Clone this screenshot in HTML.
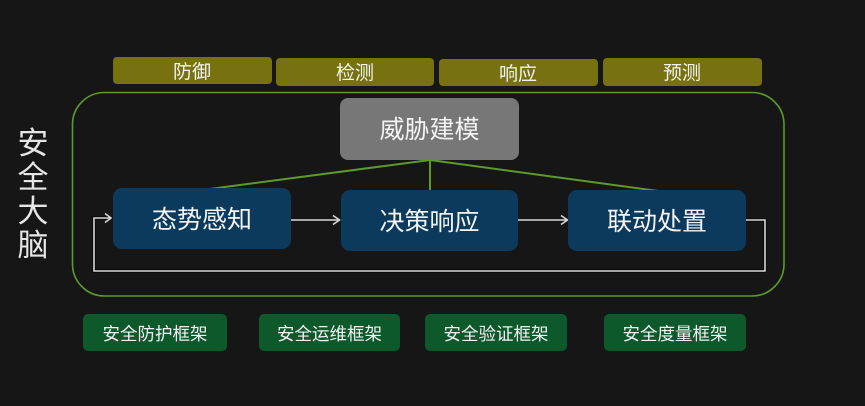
<!DOCTYPE html>
<html>
<head>
<meta charset="utf-8">
<style>
  html,body{margin:0;padding:0;background:#161616;}
  body{width:865px;height:406px;overflow:hidden;position:relative;}
  svg{position:absolute;left:0;top:0;}
  text{font-family:"Liberation Sans","Noto Sans CJK SC","WenQuanYi Zen Hei",sans-serif;}
</style>
</head>
<body>
<svg width="865" height="406" viewBox="0 0 865 406" xmlns="http://www.w3.org/2000/svg">
  <rect x="0" y="0" width="865" height="406" fill="#161616"/>

  <!-- top olive bars -->
  <g fill="#77720f">
    <rect x="113" y="57" width="159" height="27" rx="4"/>
    <rect x="276" y="58" width="158" height="28" rx="4"/>
    <rect x="439" y="59" width="159" height="27" rx="4"/>
    <rect x="603" y="58" width="159" height="28" rx="4"/>
  </g>
  <g fill="#f2f2f2" font-size="19" text-anchor="middle">
    <text x="192" y="78">防御</text>
    <text x="355" y="79">检测</text>
    <text x="518" y="80">响应</text>
    <text x="682" y="79">预测</text>
  </g>

  <!-- green frame -->
  <rect x="72.5" y="92.5" width="711.5" height="203.5" rx="32" fill="none" stroke="#5c9a2c" stroke-width="1.6"/>

  <!-- vertical label -->
  <g fill="#e6e6e6" font-size="31" text-anchor="middle">
    <text x="33" y="154">安</text>
    <text x="33" y="188">全</text>
    <text x="33" y="222">大</text>
    <text x="33" y="256">脑</text>
  </g>

  <!-- green connectors -->
  <g stroke="#5c9a2c" stroke-width="2" fill="none">
    <line x1="430" y1="160" x2="202" y2="190"/>
    <line x1="430" y1="160" x2="430" y2="191"/>
    <line x1="430" y1="160" x2="658" y2="191"/>
  </g>

  <!-- threat modeling box -->
  <rect x="340" y="98" width="179" height="62" rx="8" fill="#777777"/>
  <text x="429.5" y="138" fill="#f4f4f4" font-size="25" text-anchor="middle">威胁建模</text>

  <!-- feedback loop -->
  <polyline points="746,220 765,220 765,271 94,271 94,218 110,218" fill="none" stroke="#000" stroke-width="3.5" opacity="0.6"/>
  <polyline points="746,220 765,220 765,271 94,271 94,218 110,218" fill="none" stroke="#d8d8d8" stroke-width="1.6"/>
  <polyline points="105,213.5 111,218 105,222.5" fill="none" stroke="#d8d8d8" stroke-width="1.6"/>

  <!-- arrows between boxes -->
  <g stroke="#d8d8d8" stroke-width="1.6" fill="none">
    <line x1="291" y1="220" x2="339" y2="220"/>
    <polyline points="333,215.5 339.5,220 333,224.5"/>
    <line x1="518" y1="220" x2="567" y2="220"/>
    <polyline points="561,215.5 567.5,220 561,224.5"/>
  </g>

  <!-- blue boxes -->
  <g fill="#0c3a5d">
    <rect x="113" y="188" width="178" height="61" rx="9"/>
    <rect x="341" y="190" width="177" height="61" rx="9"/>
    <rect x="568" y="190" width="178" height="61" rx="9"/>
  </g>
  <g fill="#f4f4f4" font-size="25" text-anchor="middle">
    <text x="202" y="228">态势感知</text>
    <text x="429.5" y="230">决策响应</text>
    <text x="657" y="230">联动处置</text>
  </g>

  <!-- bottom green boxes -->
  <g fill="#0d592b">
    <rect x="83" y="314" width="144" height="37" rx="5"/>
    <rect x="259" y="314" width="141" height="37" rx="5"/>
    <rect x="425" y="314" width="142" height="37" rx="5"/>
    <rect x="604" y="314" width="142" height="37" rx="5"/>
  </g>
  <g fill="#f2f2f2" font-size="17.5" text-anchor="middle">
    <text x="155" y="340">安全防护框架</text>
    <text x="329.5" y="340">安全运维框架</text>
    <text x="496" y="340">安全验证框架</text>
    <text x="675" y="340">安全度量框架</text>
  </g>
</svg>
</body>
</html>
